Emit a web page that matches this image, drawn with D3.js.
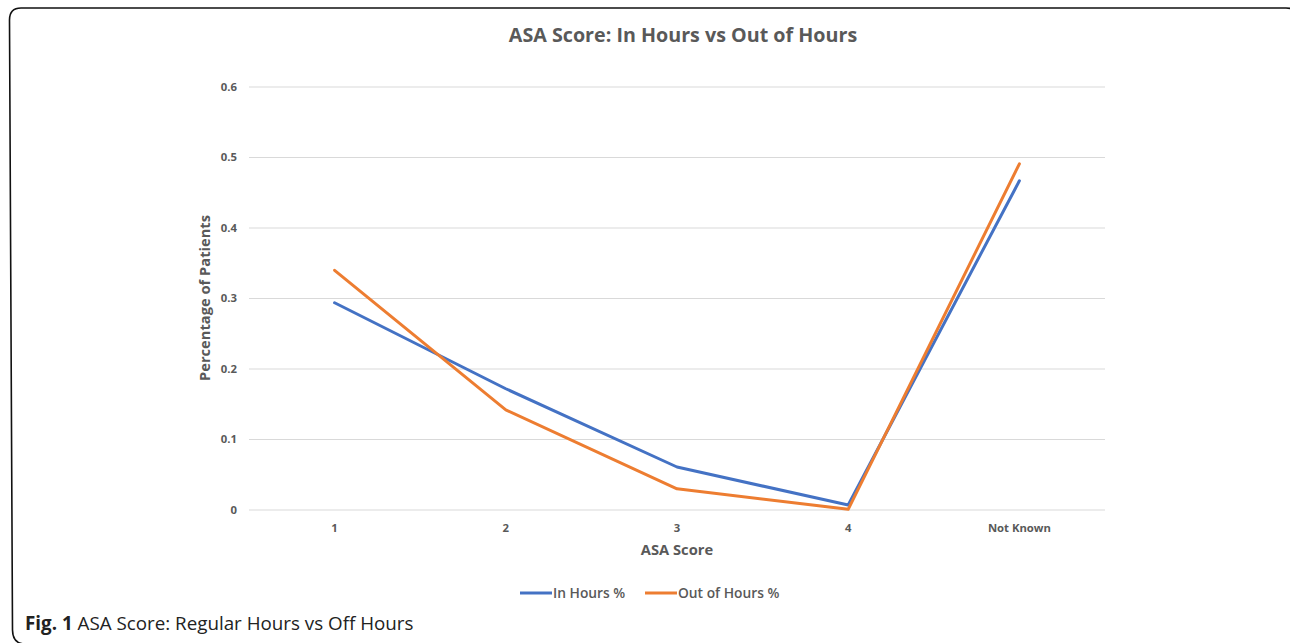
<!DOCTYPE html>
<html><head><meta charset="utf-8">
<script src="https://cdn.jsdelivr.net/npm/d3@7"></script>
<style>html,body{margin:0;padding:0;background:#fff;}</style>
</head><body>
<script>
const categories = ["1", "2", "3", "4", "Not Known"];
const inHours = [0.294, 0.172, 0.061, 0.007, 0.467];
const outOfHours = [0.340, 0.142, 0.030, 0.001, 0.491];
const yTicks = [0, 0.1, 0.2, 0.3, 0.4, 0.5, 0.6];
const seriesNames = ["In Hours %", "Out of Hours %"];
const seriesColors = ["#4472C4", "#ED7D31"];

(function () {
const W = 1290, H = 643;
const svg = d3.select("body").append("svg").attr("width", W).attr("height", H);

// frame (slightly skewed scanned border)
const fp = d3.path();
fp.moveTo(1300, 20);
fp.quadraticCurveTo(1298, 8, 1286, 8);
fp.lineTo(21, 8);
fp.quadraticCurveTo(9.5, 8, 9.5, 20);
fp.lineTo(12.5, 630);
fp.quadraticCurveTo(12.5, 643, 24, 644);
svg.append("path").attr("d", fp.toString()).attr("fill", "none")
  .attr("stroke", "#111").attr("stroke-width", 1.6);

const pLeft = 249, pRight = 1105, pTop = 87, pBottom = 510;
const x = d3.scaleBand().domain(categories).range([pLeft, pRight]).padding(0);
const y = d3.scaleLinear().domain([0, 0.6]).range([pBottom, pTop]);

svg.append("g").selectAll("line").data(yTicks).join("line")
  .attr("x1", pLeft).attr("x2", pRight)
  .attr("y1", d => y(d)).attr("y2", d => y(d))
  .attr("stroke", "#D9D9D9").attr("stroke-width", 1);

const font = "'Open Sans', sans-serif";
svg.append("g").selectAll("text").data(yTicks).join("text")
  .attr("x", 237).attr("y", d => y(d)).attr("dy", "0.35em")
  .attr("text-anchor", "end").attr("font-family", font).attr("font-weight", 700)
  .attr("font-size", 11.3).attr("fill", "#595959").text(d => d3.format("")(d));

svg.append("g").selectAll("text").data(categories).join("text")
  .attr("x", d => x(d) + x.bandwidth() / 2).attr("y", 528).attr("dy", "0.35em")
  .attr("text-anchor", "middle").attr("font-family", font).attr("font-weight", 700)
  .attr("font-size", 11.3).attr("fill", "#595959").text(d => d);

// lines
const line = d3.line().x((d, i) => x(categories[i]) + x.bandwidth() / 2).y(d => y(d));
[inHours, outOfHours].forEach((s, k) => {
  svg.append("path").datum(s).attr("d", line).attr("fill", "none")
    .attr("stroke", seriesColors[k]).attr("stroke-width", 3)
    .attr("stroke-linejoin", "round").attr("stroke-linecap", "round");
});

// title
svg.append("text").attr("x", 683).attr("y", 35).attr("dy", "0.35em").attr("text-anchor", "middle")
  .attr("font-family", font).attr("font-weight", 700).attr("font-size", 19.7)
  .attr("fill", "#595959").text("ASA Score: In Hours vs Out of Hours");

// axis titles
svg.append("text").attr("x", 677).attr("y", 550).attr("dy", "0.35em").attr("text-anchor", "middle")
  .attr("font-family", font).attr("font-weight", 700).attr("font-size", 14.7)
  .attr("fill", "#595959").text("ASA Score");
svg.append("text").attr("transform", "translate(205,298) rotate(-90)").attr("dy", "0.35em")
  .attr("text-anchor", "middle").attr("font-family", font).attr("font-weight", 700)
  .attr("font-size", 14.7).attr("fill", "#595959").text("Percentage of Patients");

// legend
const legendX = [520, 645];
const lg = svg.append("g");
seriesNames.forEach((n, k) => {
  lg.append("line").attr("x1", legendX[k]).attr("x2", legendX[k] + 32)
    .attr("y1", 593).attr("y2", 593).attr("stroke", seriesColors[k]).attr("stroke-width", 3);
  lg.append("text").attr("x", legendX[k] + 33).attr("y", 593).attr("dy", "0.35em")
    .attr("font-family", font).attr("font-weight", 600).attr("font-size", 13.8)
    .attr("fill", "#595959").text(n);
});

// caption
const cap = svg.append("text").attr("x", 25).attr("y", 623).attr("dy", "0.35em")
  .attr("font-family", font).attr("font-size", 18.8).attr("fill", "#222");
cap.append("tspan").attr("font-weight", "bold").text("Fig. 1");
cap.append("tspan").text(" ASA Score: Regular Hours vs Off Hours");
})();
</script>
</body></html>
